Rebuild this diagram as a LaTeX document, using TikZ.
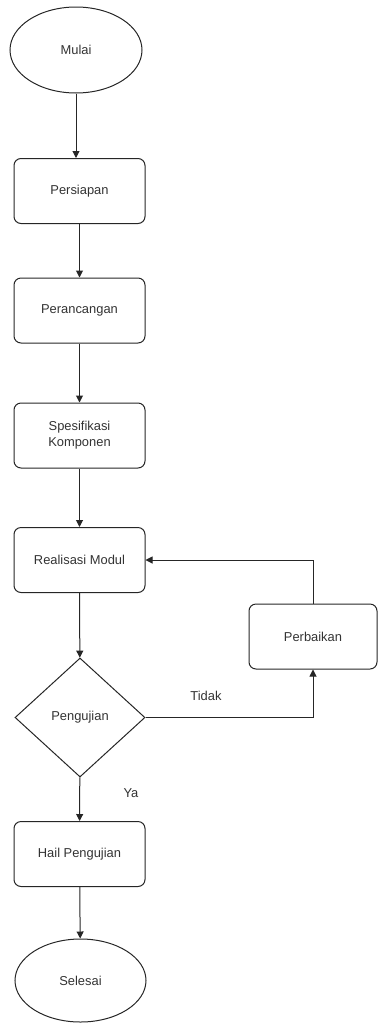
\documentclass[tikz,border=0pt]{standalone}
\usepackage{fontspec}
\setmainfont{Liberation Sans}
\usetikzlibrary{arrows.meta,shapes.geometric}
\begin{document}
\begin{tikzpicture}[x=1pt,y=-1pt,
 every node/.style={font=\fontsize{12.9}{16}\selectfont, text=black!80},
 box/.style={draw=black!85, line width=1pt, rounded corners=7pt, minimum width=131pt, minimum height=65pt, inner sep=0pt, align=center},
 term/.style={draw=black!85, line width=1pt, ellipse, inner sep=0pt},
 dec/.style={draw=black!85, line width=1pt, diamond, minimum width=130pt, minimum height=119pt, inner sep=0pt, aspect=1.1},
 arr/.style={draw=black!85, line width=1pt, -{Triangle[length=7pt,width=7pt]}},
 lbl/.style={}]
\useasboundingbox (0,0) rectangle (378,1026);
\node[term, minimum width=132pt, minimum height=86pt] (mulai) at (76,50) {Mulai};
\node[box] (persiapan) at (79.5,191) {Persiapan};
\node[box] (perancangan) at (79.5,310.5) {Perancangan};
\node[box] (spesifikasi) at (79.5,435.5) {Spesifikasi\\Komponen};
\node[box] (realisasi) at (79.5,560) {Realisasi Modul};
\node[dec] (pengujian) at (80,717.5) {Pengujian};
\node[box, minimum width=128pt] (perbaikan) at (313,636.5) {Perbaikan};
\node[box] (hail) at (79.5,854) {Hail Pengujian};
\node[term, minimum width=131pt, minimum height=83pt] (selesai) at (80.5,980.5) {Selesai};
\node[lbl] (tidak) at (206,696) {Tidak};
\node[lbl] (ya) at (131,793) {Ya};
\draw[arr] (mulai.south) -- (mulai.south |- persiapan.north);
\draw[arr] (persiapan) -- (perancangan);
\draw[arr] (perancangan) -- (spesifikasi);
\draw[arr] (spesifikasi) -- (realisasi);
\draw[arr] (realisasi) -- (pengujian);
\draw[arr] (pengujian.east) -| (perbaikan.south);
\draw[arr] (perbaikan.north) |- (realisasi.east);
\draw[arr] (pengujian) -- (hail);
\draw[arr] (hail) -- (selesai);
\end{tikzpicture}
\end{document}
